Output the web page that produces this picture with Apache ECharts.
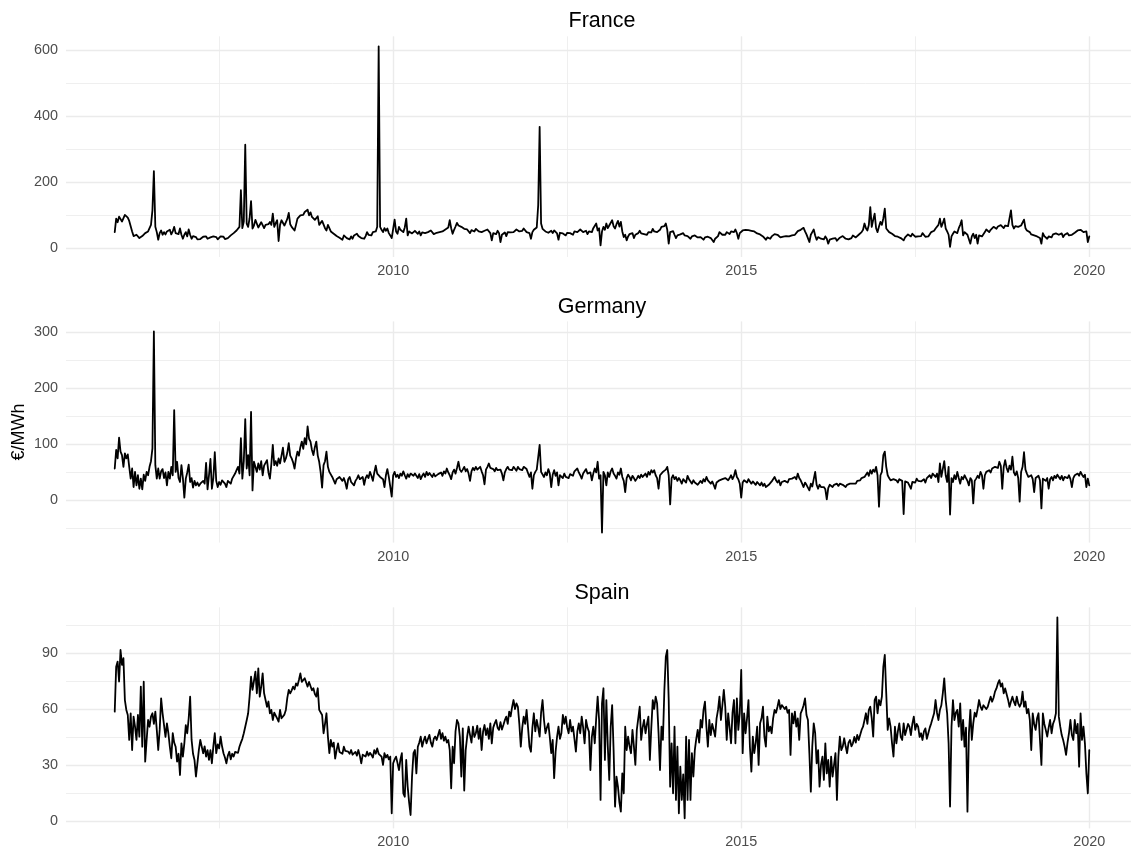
<!DOCTYPE html>
<html><head><meta charset="utf-8">
<script src="https://cdn.jsdelivr.net/npm/echarts@6/dist/echarts.min.js"></script>
<style>html,body{margin:0;padding:0;background:#fff}#c{width:1131px;height:852px}</style>
</head><body><div id="c"></div>
<script>
const panelTitles = ['France', 'Germany', 'Spain'];
const yAxisTitle = '€/MWh';
const xTickLabels = [2010, 2015, 2020];
const xMinorTicks = [2007.5, 2012.5, 2017.5];
const frMajor = [0, 200, 400, 600];
const frMinor = [100, 300, 500];
const deMajor = [0, 100, 200, 300];
const deMinor = [-50, 50, 150, 250];
const esMajor = [0, 30, 60, 90];
const esMinor = [15, 45, 75, 105];

// samples every 1/48 year from 2006.0 to 2020.0 (one row per year)
const firstYear = 2006;
const samplesPerYear = 48;

const frValues = [
48,89,78,95,99,80,86,100,104,92,82,66,50,36,30,40,43,30,25,36,40,45,48,50,53,70,114,233,64,48,25,45,53,40,48,41,50,45,55,41,50,64,45,50,42,59,40,28,
40,48,35,56,40,28,36,30,33,26,32,27,23,34,30,35,28,25,32,28,35,30,33,26,31,35,30,34,27,23,30,33,38,42,45,50,53,58,64,175,60,80,313,74,64,90,142,59,
68,85,79,62,64,78,74,60,70,64,72,79,70,104,64,75,84,21,70,84,78,68,74,88,106,72,64,58,53,70,89,95,99,104,100,109,105,116,99,108,94,100,85,79,96,70,64,82,
79,60,53,70,64,50,55,43,48,36,40,31,35,25,38,40,30,33,26,35,28,38,34,43,36,40,30,34,28,36,48,40,45,38,48,53,50,64,611,64,55,48,60,52,59,45,38,30,
25,86,50,43,64,55,60,48,62,89,38,50,56,44,48,52,46,43,50,38,47,53,45,50,48,44,53,48,42,38,46,42,48,44,50,48,56,52,62,84,60,43,55,65,76,68,62,64,
60,58,52,56,50,45,54,53,50,58,55,50,51,48,44,52,50,56,61,45,23,45,48,42,52,45,18,40,43,47,36,48,53,47,52,48,54,56,51,50,55,52,59,53,48,52,45,28,
48,55,53,62,129,367,74,58,53,50,55,46,48,52,45,53,48,44,25,46,48,44,47,38,46,42,45,48,40,50,53,48,52,56,50,48,45,52,42,50,53,48,60,55,74,53,60,8,
50,64,55,74,60,68,62,84,66,59,72,82,65,79,50,33,40,23,35,42,38,45,30,40,41,45,52,44,48,42,46,40,48,51,47,58,50,53,48,47,55,64,58,66,74,55,13,48,
45,51,40,30,38,44,41,35,45,38,43,36,40,28,35,33,38,40,32,36,33,28,25,32,28,34,35,30,25,18,28,30,36,48,42,40,44,40,48,44,42,50,53,48,56,45,28,45,
50,53,48,55,50,54,59,52,48,50,46,44,48,41,38,35,30,25,32,36,28,35,38,42,48,40,36,32,28,34,38,36,38,35,40,38,43,40,46,51,48,55,52,61,50,41,45,18,
40,48,56,38,25,33,30,28,32,26,35,28,13,25,30,28,24,30,22,28,31,26,36,30,28,32,26,25,30,38,34,32,36,40,43,48,55,74,60,53,70,124,64,85,104,60,48,65,
79,70,90,119,59,55,48,45,43,40,36,38,34,36,30,28,23,32,36,41,38,35,43,38,34,30,35,38,36,45,40,34,28,35,38,48,44,52,59,55,70,89,64,75,89,59,50,40,
3,35,43,50,53,45,60,70,84,38,48,53,40,45,13,35,43,30,40,13,38,43,35,40,48,56,50,48,55,58,64,60,58,65,62,69,64,60,68,72,66,64,114,70,59,66,60,64,
60,68,70,86,60,53,58,48,41,46,38,42,35,40,30,13,45,36,40,28,35,38,32,41,36,44,48,40,38,44,33,40,42,45,38,44,40,38,46,42,53,48,55,61,48,45,50,18,
35];

const deValues = [
57,90,75,112,87,81,60,84,75,82,60,39,57,24,51,27,45,21,39,20,46,35,51,45,60,70,93,301,63,39,57,39,52,56,40,50,27,51,39,60,45,161,51,69,40,33,63,40,
5,39,50,64,33,40,23,35,27,32,26,30,28,35,30,67,20,45,74,21,40,86,35,24,33,28,36,39,30,24,35,33,30,39,42,48,54,60,48,111,39,70,145,57,81,45,158,18,
69,60,51,66,55,70,45,62,60,72,50,39,65,99,63,70,62,75,66,80,94,69,75,85,102,80,75,68,57,75,87,80,95,105,92,111,100,132,110,105,90,81,95,105,80,69,50,23,
63,70,87,60,51,48,42,45,30,38,36,42,44,35,40,32,21,38,42,33,36,27,35,39,45,38,36,42,28,40,45,40,51,44,35,50,62,48,51,42,45,38,24,45,56,42,40,7,
45,51,42,46,40,48,44,52,45,39,47,42,48,51,44,48,45,40,47,38,44,48,42,51,45,49,46,42,48,43,40,47,46,50,44,52,48,57,50,45,38,50,55,48,58,69,55,51,
55,60,52,56,48,35,52,58,54,60,55,58,60,52,45,29,55,60,66,58,55,56,52,58,54,51,55,48,36,50,56,60,55,58,54,60,57,53,60,56,58,54,60,63,56,58,42,50,
21,45,51,55,57,99,51,48,42,50,45,56,48,24,46,54,44,50,27,45,46,40,48,42,45,40,47,48,44,52,50,57,50,45,39,48,52,56,48,45,50,36,48,57,50,69,39,45,
-57,51,45,27,50,42,52,57,48,44,39,50,46,57,42,35,15,40,46,42,36,44,40,35,39,44,40,46,42,45,48,42,51,46,54,50,54,45,40,21,45,42,51,48,55,60,45,-7,
40,45,38,42,35,40,36,30,38,36,32,44,38,34,30,36,32,33,28,30,35,31,38,34,42,36,35,30,34,28,21,32,30,36,33,38,35,40,42,36,40,45,38,44,54,42,38,30,
5,32,36,39,32,38,36,30,34,32,28,33,30,27,32,26,30,24,21,28,30,34,38,42,36,32,36,27,33,30,35,36,32,38,35,39,36,42,38,48,40,36,30,24,32,28,30,18,
30,25,38,51,28,21,28,24,26,24,20,2,22,28,26,24,28,25,30,26,30,27,28,25,24,28,26,30,28,30,32,30,35,32,36,40,38,42,45,50,44,54,48,55,51,60,45,-11,
45,51,81,87,60,45,40,36,33,38,35,36,32,38,39,35,-24,34,36,32,35,21,33,36,32,39,35,38,34,36,38,32,40,42,45,40,48,51,42,48,33,66,42,39,70,45,33,60,
-25,40,33,45,38,51,40,30,42,38,45,40,35,27,40,36,-5,35,39,44,40,51,45,21,45,51,48,54,50,57,55,60,63,58,69,62,21,60,72,58,51,62,55,78,50,45,52,40,
-2,51,60,86,55,48,42,39,45,38,15,40,39,44,36,-14,39,42,35,40,21,38,42,36,44,40,46,42,38,44,36,42,45,40,45,38,24,40,45,42,48,44,51,46,42,46,24,39,
27];

const esValues = [
58.6,82.7,85.4,74.7,91.6,83.6,87.2,64.8,59.5,56.8,43.4,57.7,38.0,55.9,50.5,43.4,56.8,45.2,72.0,39.8,74.6,31.8,43.4,54.1,50.5,55.9,57.7,52.0,58.6,48.8,38.0,48.8,65.7,57.7,51.4,45.0,52.3,47.0,39.8,33.6,47.0,42.0,39.8,31.8,36.0,24.6,41.6,34.5,
41.6,51.4,47.0,55.0,66.6,43.4,36.0,32.7,23.8,30.9,38.0,43.4,44.3,36.3,40.0,34.5,38.0,32.7,38.0,30.9,40.0,47.0,36.3,41.0,38.9,45.2,40.0,36.3,34.0,30.9,35.0,37.1,33.0,36.0,34.5,37.0,38.0,36.5,39.8,42.0,44.0,47.0,50.5,54.0,57.7,66.6,77.3,70.2,
75.0,80.0,68.4,81.8,66.6,72.0,79.1,68.4,64.8,61.2,64.0,57.7,59.5,54.1,58.0,57.7,55.0,53.2,59.5,55.0,54.1,57.0,59.5,66.0,70.2,68.4,70.0,72.0,70.5,73.7,72.5,75.5,79.1,74.5,73.7,76.5,75.5,72.0,74.5,73.7,70.0,71.1,68.0,66.6,71.1,59.5,60.0,56.8,
47.0,52.0,57.7,45.2,36.3,43.4,39.8,42.0,33.4,38.0,41.6,37.0,38.0,36.0,39.8,37.5,38.5,37.1,36.0,38.0,35.5,36.3,37.0,35.0,38.0,35.0,30.9,35.5,36.3,34.5,37.1,35.0,36.5,35.4,34.0,38.0,36.0,38.9,36.0,35.5,34.5,30.0,36.3,34.0,35.4,33.0,34.5,4.1,
30.9,33.0,34.5,31.0,27.3,33.0,36.3,14.8,13.0,32.7,18.4,10.0,3.2,23.6,36.3,38.0,25.5,39.8,42.0,45.2,39.8,43.0,45.2,41.6,44.0,46.1,42.0,39.8,44.0,45.2,43.4,46.0,48.8,44.0,47.0,43.0,45.2,42.0,43.4,38.0,17.5,39.8,30.9,48.0,54.1,52.3,45.0,23.8,
49.6,16.3,38.0,45.0,50.5,46.1,42.0,50.5,45.0,47.0,51.0,44.0,49.6,38.0,48.0,51.4,46.0,49.6,44.0,52.3,41.6,50.0,52.3,54.1,50.0,48.8,53.0,49.0,51.4,54.0,55.9,52.0,58.6,56.0,61.0,64.8,60.0,63.0,61.2,52.0,39.8,50.0,55.9,52.0,59.5,50.0,39.8,37.1,
50.0,57.7,48.0,54.1,50.0,45.2,58.0,64.8,54.1,47.0,50.0,52.3,45.0,36.3,43.4,22.9,37.1,45.0,50.5,44.0,47.0,56.8,52.0,55.9,50.0,47.0,54.1,48.0,50.5,44.0,37.1,48.0,52.3,47.0,55.9,50.0,41.6,54.1,50.0,47.9,27.3,45.0,50.5,41.6,55.0,66.6,54.1,11.3,
63.0,71.1,32.7,64.8,40.0,22.0,50.5,62.1,38.0,7.7,23.8,18.4,10.0,5.0,25.5,14.8,50.5,38.0,45.2,40.0,36.3,48.8,40.0,30.0,48.8,55.0,61.2,43.4,50.0,54.1,47.0,52.0,55.9,32.7,50.0,64.8,60.0,66.6,63.0,47.0,27.3,50.5,43.4,70.0,88.0,91.6,64.8,18.4,
41.6,14.8,50.5,11.3,39.8,4.1,29.1,11.3,25.0,1.4,45.2,11.3,43.4,11.3,36.3,23.8,38.0,44.0,48.8,42.0,54.1,50.0,59.5,63.9,50.5,39.8,54.1,46.0,52.0,48.8,45.2,55.0,59.5,66.6,54.1,62.0,70.2,61.2,43.4,57.7,50.0,41.6,58.0,64.8,41.6,65.7,48.8,57.7,
80.9,36.3,57.7,47.0,55.0,64.8,39.8,26.4,45.2,36.3,42.0,50.5,30.0,52.3,55.0,61.2,45.0,39.8,55.9,48.0,50.5,47.0,55.0,59.5,58.0,61.2,64.8,60.0,62.1,63.0,60.0,61.2,58.0,59.5,35.4,57.7,52.3,58.6,50.5,55.0,43.4,57.7,59.5,62.0,65.7,56.8,54.1,36.3,
15.7,40.0,52.3,47.0,30.9,38.0,18.4,30.0,34.5,22.0,41.6,25.5,32.7,18.4,34.5,23.8,30.0,36.3,11.3,34.5,45.2,38.0,39.8,44.3,40.0,36.3,42.0,43.4,40.0,41.6,45.0,42.0,46.1,43.4,46.0,48.8,50.5,54.0,57.7,52.0,59.5,61.2,55.0,45.2,64.8,66.6,57.7,64.8,
62.0,66.6,82.7,89.0,68.4,48.8,55.0,50.5,41.6,34.5,50.5,41.6,48.0,52.3,45.0,43.4,52.3,46.0,47.0,52.0,50.5,46.0,52.0,55.9,48.8,52.0,50.5,45.0,47.0,43.4,48.0,49.6,44.0,47.0,50.0,52.3,55.0,57.7,64.8,58.0,54.1,59.5,62.0,68.4,76.4,64.8,57.7,41.6,
7.7,50.5,64.8,54.1,58.0,59.5,50.5,63.0,43.4,54.1,39.8,50.0,5.0,47.0,59.5,43.4,52.3,58.0,55.9,60.0,64.8,61.2,59.5,62.0,63.0,60.0,61.2,64.0,66.6,63.9,66.0,69.3,71.0,73.7,75.5,72.0,73.7,68.4,71.0,70.2,65.0,61.2,64.0,66.6,63.9,62.0,66.6,63.0,
61.2,63.0,69.3,61.2,64.0,57.7,60.0,54.1,38.0,57.7,52.0,48.8,55.0,57.7,43.4,30.0,57.7,52.0,48.8,45.2,50.0,54.1,47.0,52.0,54.1,57.7,109.1,55.9,50.5,46.0,43.4,39.8,35.4,42.0,47.0,54.1,46.0,43.4,54.1,47.0,52.0,29.1,57.7,43.4,50.5,41.6,25.5,14.8,
38.0];

const FONT = '"Liberation Sans", Arial, Helvetica, sans-serif';
const panels = [
  {values: frValues, yMin: -27.4, yMax: 641.4, major: frMajor, minor: frMinor, top: 36.3, height: 220.7, titleTop: 10},
  {values: deValues, yMin: -74.9, yMax: 318.9, major: deMajor, minor: deMinor, top: 321.4, height: 221.2, titleTop: 296},
  {values: esValues, yMin: -3.99, yMax: 114.49, major: esMajor, minor: esMinor, top: 607.3, height: 221.1, titleTop: 582}
];

const option = {
  animation: false,
  backgroundColor: '#ffffff',
  title: panels.map((p, i) => ({
    text: panelTitles[i], left: 602, top: p.titleTop, textAlign: 'center', padding: 0,
    textStyle: {fontFamily: FONT, fontSize: 21.5, fontWeight: 'normal', color: '#000000'}
  })),
  grid: panels.map(p => ({left: 66, width: 1072, top: p.top, height: p.height, containLabel: false, outerBoundsMode: 'none'})),
  xAxis: [], yAxis: [], series: []
};

panels.forEach((p, i) => {
  option.xAxis.push({
    type: 'value', gridIndex: i, min: 2005.3, max: 2020.7, position: 'bottom',
    axisLine: {show: false}, axisTick: {show: false, customValues: xTickLabels},
    axisLabel: {customValues: xTickLabels, formatter: v => String(v), margin: 7, color: '#4d4d4d', fontSize: 14.4, fontFamily: FONT},
    splitLine: {show: true, lineStyle: {color: '#ebebeb', width: 1.4}}
  });
  option.xAxis.push({
    type: 'value', gridIndex: i, min: 2005.3, max: 2020.7, position: 'top',
    axisLine: {show: false}, axisTick: {show: false, customValues: xMinorTicks},
    axisLabel: {show: false, customValues: xMinorTicks},
    splitLine: {show: true, lineStyle: {color: '#ebebeb', width: 0.8}}
  });
  const yMain = {
    type: 'value', gridIndex: i, min: p.yMin, max: p.yMax, position: 'left',
    axisLine: {show: false}, axisTick: {show: false, customValues: p.major},
    axisLabel: {customValues: p.major, formatter: v => String(v), margin: 8, color: '#4d4d4d', fontSize: 14.4, fontFamily: FONT},
    splitLine: {show: true, lineStyle: {color: '#ebebeb', width: 1.4}}
  };
  if (i === 1) {
    yMain.name = yAxisTitle;
    yMain.nameLocation = 'middle';
    yMain.nameGap = 38;
    yMain.nameRotate = 90;
    yMain.nameMoveOverlap = false;
    yMain.nameTextStyle = {fontFamily: FONT, fontSize: 18, color: '#000000'};
  }
  option.yAxis.push(yMain);
  option.yAxis.push({
    type: 'value', gridIndex: i, min: p.yMin, max: p.yMax, position: 'right',
    axisLine: {show: false}, axisTick: {show: false, customValues: p.minor},
    axisLabel: {show: false, customValues: p.minor},
    splitLine: {show: true, lineStyle: {color: '#ebebeb', width: 0.8}}
  });
  option.series.push({
    type: 'line', xAxisIndex: 2 * i, yAxisIndex: 2 * i,
    data: p.values.map((v, k) => [firstYear + k / samplesPerYear, v]),
    symbol: 'none', showSymbol: false, silent: true,
    lineStyle: {color: '#000000', width: 1.8, join: 'round', cap: 'round'},
    z: 5
  });
});

const chart = echarts.init(document.getElementById('c'), null, {renderer: 'canvas'});
chart.setOption(option);
</script>
</body></html>
